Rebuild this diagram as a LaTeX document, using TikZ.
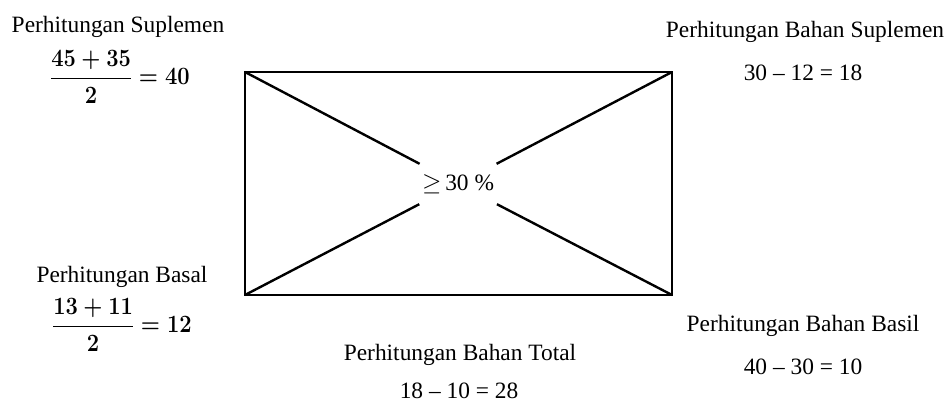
\documentclass[tikz,border=0pt]{standalone}
\usepackage{amsmath}
\usepackage{graphicx}
\usepackage{fontspec}
\setmainfont{Liberation Serif}
\newcommand{\narrowfrac}[1]{\scalebox{0.88}[1]{#1}}
\begin{document}
\begin{tikzpicture}[x=1pt,y=-1pt,
  lbl/.style={font=\fontsize{23.4}{27}\selectfont, inner sep=0pt},
  eqn/.style={font=\fontsize{23.4}{27}\selectfont, inner sep=0pt},
  frc/.style={font=\fontsize{23.2}{27}\selectfont\boldmath, inner sep=0pt},
  frame/.style={line width=2.6pt, line join=miter},
  diag/.style={line width=2.4pt}]
\useasboundingbox (0,0) rectangle (946,402);
\coordinate (tl) at (245,72);
\coordinate (tr) at (672,72);
\coordinate (br) at (672,295);
\coordinate (bl) at (245,295);
\node[inner sep=0pt, minimum width=80pt, minimum height=40pt, font=\fontsize{23.4}{27}\selectfont] (c) at (458,184) {$\geq$\,30 \%};
\draw[frame] (tl) -- (tr) -- (br) -- (bl) -- cycle;
\draw[diag] (tl) -- (c);
\draw[diag] (tr) -- (c);
\draw[diag] (bl) -- (c);
\draw[diag] (br) -- (c);
\node[lbl] (supl) at (118,27) {Perhitungan Suplemen};
\node[frc] (suplf) at (120,77) {\narrowfrac{$\dfrac{45+35}{2}=40$}};
\node[lbl] (bsupl) at (805,32) {Perhitungan Bahan Suplemen};
\node[eqn] (bsuple) at (803,73) {30 – 12 = 18};
\node[lbl] (basal) at (122,277) {Perhitungan Basal};
\node[frc] (basalf) at (122,325) {\narrowfrac{$\dfrac{13+11}{2}=12$}};
\node[lbl] (total) at (460,355) {Perhitungan Bahan Total};
\node[eqn] (totale) at (459,391) {18 – 10 = 28};
\node[lbl] (basil) at (803,326) {Perhitungan Bahan Basil};
\node[eqn] (basile) at (803,367) {40 – 30 = 10};
\end{tikzpicture}
\end{document}
